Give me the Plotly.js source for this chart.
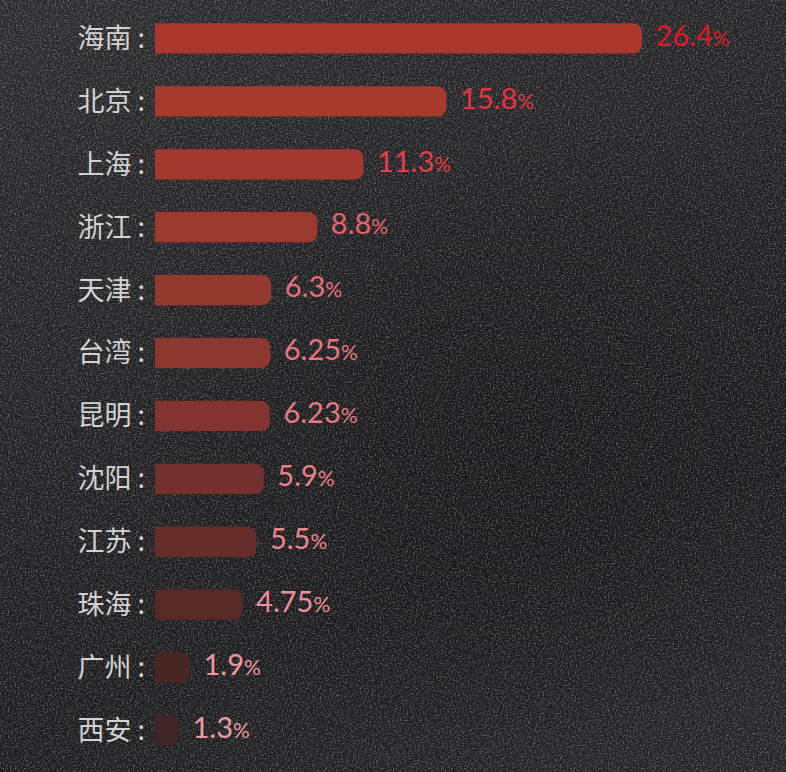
<!DOCTYPE html>
<html>
<head>
<meta charset="utf-8">
<script src="https://cdn.plot.ly/plotly-3.0.1.min.js"></script>
<style>
html,body{margin:0;padding:0;width:786px;height:772px;overflow:hidden;}
body{
  background-color:#1e1e20;
  background-image:
    radial-gradient(ellipse at 65% 55%, rgba(0,0,0,0.22) 0%, rgba(0,0,0,0) 55%),
    linear-gradient(160deg, #2c2c2e 0%, #222224 40%, #1d1d1f 70%, #262628 100%);
}
#tex{position:absolute;left:0;top:0;width:786px;height:772px;opacity:0.6;pointer-events:none;}
#chart{position:absolute;left:0;top:0;width:786px;height:772px;}
</style>
</head>
<body>
<svg id="tex" xmlns="http://www.w3.org/2000/svg" width="786" height="772">
  <filter id="n">
    <feTurbulence type="fractalNoise" baseFrequency="0.6" numOctaves="3" seed="4"/>
    <feColorMatrix type="matrix" values="0 0 0 0 0.5  0 0 0 0 0.5  0 0 0 0 0.52  0 0 0 1.8 -0.8"/>
  </filter>
  <rect width="786" height="772" filter="url(#n)"/>
</svg>
<div id="chart"></div>
<script>
// Data
const cities = ["海南","北京","上海","浙江","天津","台湾","昆明","沈阳","江苏","珠海","广州","西安"];
const shares = [26.4, 15.8, 11.3, 8.8, 6.3, 6.25, 6.23, 5.9, 5.5, 4.75, 1.9, 1.3];
const shareLabels = ["26.4","15.8","11.3","8.8","6.3","6.25","6.23","5.9","5.5","4.75","1.9","1.3"];
const cityLabels = cities.map(c => c + " :");

// Styles
const barColors = ["#AC372C","#A8392D","#A3392E","#9C392F","#94392F","#8C3730",
                   "#833430","#74302D","#672D2B","#572927","#482624","#3F2525"];
const textColors = ["#E01822","#E8323E","#E83C48","#E8626A","#E87078","#E8767E",
                    "#E87A82","#EA8088","#EC878F","#EE8F97","#EE969E","#EE9AA2"];

const bars = {
  type: "bar",
  orientation: "h",
  x: shares,
  y: cities,
  marker: {color: barColors, cornerradius: 9, line: {width: 0}},
  hoverinfo: "skip"
};

const labels = {
  type: "scatter",
  mode: "markers+text",
  x: shares,
  y: cities,
  text: shareLabels.map(s => s + '<span style="font-size:21px">%</span>'),
  textposition: "middle right",
  textfont: {family: "Lato, 'Noto Sans', sans-serif", size: 29, color: textColors, weight: 400},
  marker: {size: 20, opacity: 0},
  cliponaxis: false,
  hoverinfo: "skip"
};

const layout = {
  width: 786,
  height: 772,
  margin: {l: 155, r: 144, t: 7, b: 10},
  paper_bgcolor: "rgba(0,0,0,0)",
  plot_bgcolor: "rgba(0,0,0,0)",
  showlegend: false,
  bargap: 0.52,
  xaxis: {range: [0, 26.4], visible: false, fixedrange: true},
  yaxis: {
    type: "category",
    range: [11.5, -0.5],
    tickvals: cities,
    ticktext: cityLabels,
    ticks: "",
    showgrid: false,
    zeroline: false,
    showline: false,
    ticklabelstandoff: 9,
    tickfont: {family: "'Noto Sans CJK SC', sans-serif", size: 27, color: "#D2D2D2"},
    fixedrange: true
  }
};

Plotly.newPlot("chart", [bars, labels], layout, {displayModeBar: false, staticPlot: true});
</script>
</body>
</html>
